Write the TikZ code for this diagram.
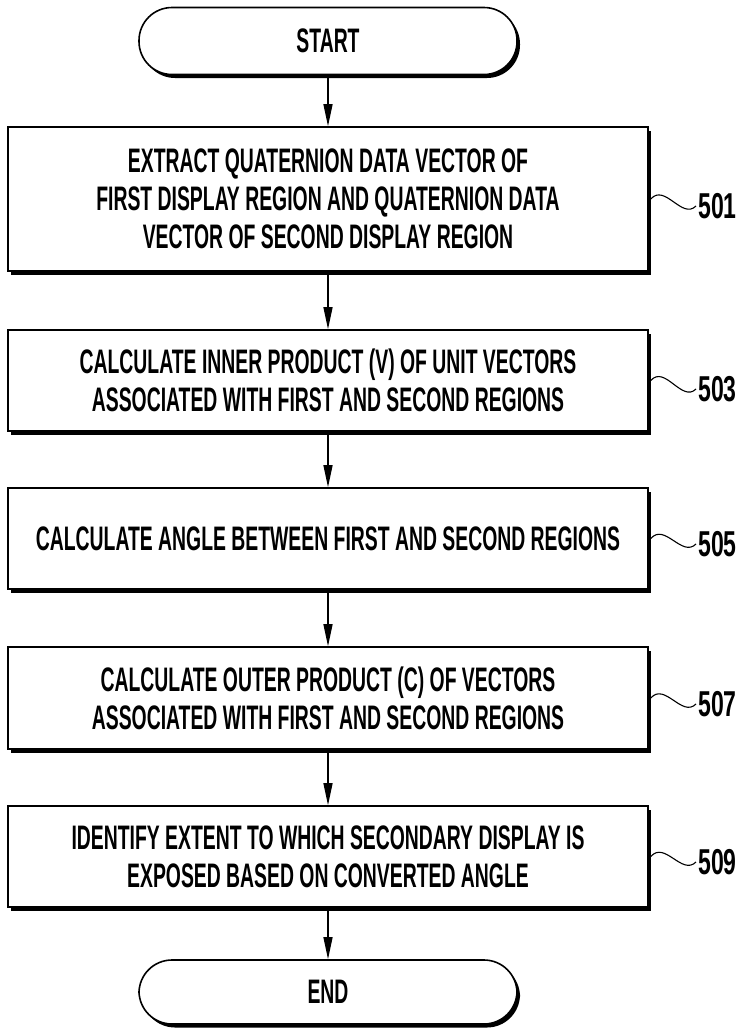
\documentclass[tikz,border=0pt]{standalone}
\usepackage{fontspec}
\setmainfont{Liberation Sans}[FakeStretch=0.57]
\newfontfamily\labfont{Liberation Sans}[FakeStretch=0.64]
\usetikzlibrary{arrows.meta,shadows}
\begin{document}
\begin{tikzpicture}[x=1pt,y=-1pt,
  box/.style={draw=black, line width=1.6pt, fill=white, minimum width=640pt,
    align=center, inner sep=0pt,
    font=\fontsize{34}{38}\selectfont\bfseries,
    drop shadow={shadow xshift=3pt, shadow yshift=-3.5pt, fill=black, opacity=1}},
  term/.style={box, minimum width=378pt, minimum height=67pt, rounded corners=33pt},
  arr/.style={line width=1.3pt, -{Triangle[length=22pt,width=9pt]}},
  lab/.style={anchor=west, inner sep=0pt, font=\labfont\fontsize{36}{38}\selectfont\bfseries},
  lead/.style={line width=1.1pt}]
\useasboundingbox[fill=white] (0,0) rectangle (742,1031);

\node[term] (start) at (328,41) {START};
\node[box, minimum height=144pt] (b501) at (328,199)
  {EXTRACT QUATERNION DATA VECTOR OF\\FIRST DISPLAY REGION AND QUATERNION DATA\\VECTOR OF SECOND DISPLAY REGION};
\node[box, minimum height=101pt] (b503) at (328,380.5)
  {CALCULATE INNER PRODUCT (V) OF UNIT VECTORS\\ASSOCIATED WITH FIRST AND SECOND REGIONS};
\node[box, minimum height=101pt] (b505) at (328,538.5)
  {CALCULATE ANGLE BETWEEN FIRST AND SECOND REGIONS};
\node[box, minimum height=102pt] (b507) at (328,698)
  {CALCULATE OUTER PRODUCT (C) OF VECTORS\\ASSOCIATED WITH FIRST AND SECOND REGIONS};
\node[box, minimum height=101pt] (b509) at (328,856.5)
  {IDENTIFY EXTENT TO WHICH SECONDARY DISPLAY IS\\EXPOSED BASED ON CONVERTED ANGLE};
\node[term, minimum height=64pt] (end) at (328,992) {END};

\draw[arr] (start) -- (b501);
\draw[arr] (b501) -- (b503);
\draw[arr] (b503) -- (b505);
\draw[arr] (b505) -- (b507);
\draw[arr] (b507) -- (b509);
\draw[arr] (b509) -- (end);

\node[lab] (l501) at (698,206) {501};
\node[lab] (l503) at (698,389) {503};
\node[lab] (l505) at (698,544) {505};
\node[lab] (l507) at (698,704) {507};
\node[lab] (l509) at (698,862) {509};

\foreach \n in {501,503,505,507,509}{
  \draw[lead] ([xshift=2pt]b\n.east) .. controls +(14,-16) and +(-14,14) .. ([xshift=-2pt]l\n.west);
}
\end{tikzpicture}
\end{document}
